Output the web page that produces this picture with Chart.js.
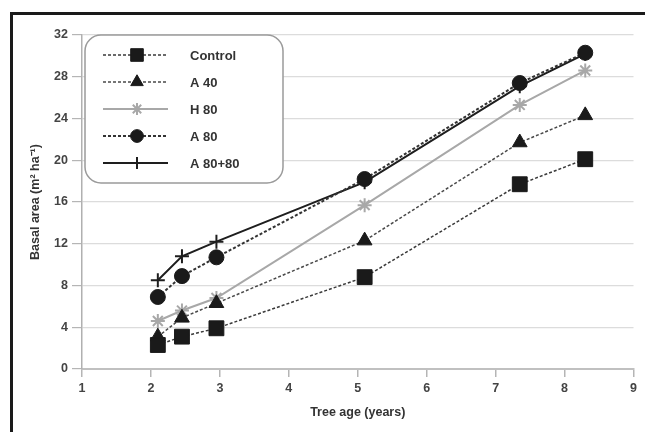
<!DOCTYPE html>
<html>
<head>
<meta charset="utf-8">
<script src="https://cdn.jsdelivr.net/npm/chart.js@4.4.0/dist/chart.umd.min.js"></script>
<style>
  html, body { margin: 0; padding: 0; background: #fff; overflow: hidden; }
  #wrap { position: relative; width: 645px; height: 432px; }
  #frame { position: absolute; left: 10px; top: 12px; width: 700px; height: 500px;
           border-left: 3px solid #1a1a1a; border-top: 3px solid #1a1a1a; pointer-events: none; }
</style>
</head>
<body>
<div id="wrap">
  <canvas id="basal_chart" width="645" height="432"></canvas>
  <div id="frame"></div>
</div>
<script>
// tree age at each measurement (years)
const ages = [2.1, 2.45, 2.95, 5.1, 7.35, 8.3];
// basal area (m2 ha-1) per treatment
const control = [2.3, 3.1, 3.9, 8.8, 17.7, 20.1];
const a40 = [3.1, 4.9, 6.3, 12.3, 21.7, 24.3];
const h80 = [4.6, 5.6, 6.8, 15.7, 25.3, 28.6];
const a80 = [6.9, 8.9, 10.7, 18.2, 27.4, 30.3];
const a80plus80 = [8.5, 10.8, 12.2, 17.9, 27.1, 30.2];
const seriesNames = ["Control", "A 40", "H 80", "A 80", "A 80+80"];
const yTicks = [0, 4, 8, 12, 16, 20, 24, 28, 32];
const xTicks = [1, 2, 3, 4, 5, 6, 7, 8, 9];

const font = "'Liberation Sans', Arial, sans-serif";

function pts(vals) {
    return vals.map(function (v, i) { return { x: ages[i], y: v }; });
}

const styles = [
    { color: "#3a3a3a", fill: "#1a1a1a", dash: [3, 2], width: 1.5, point: "rect", r: 10.5 },
    { color: "#4a4a4a", fill: "#1a1a1a", dash: [3, 2], width: 1.5, point: "triangle", r: 8.5 },
    { color: "#a8a8a8", fill: "#a8a8a8", dash: [], width: 2, point: "star", r: 7 },
    { color: "#333333", fill: "#1a1a1a", dash: [3, 2], width: 2, point: "circle", r: 7.5 },
    { color: "#1e1e1e", fill: "#1e1e1e", dash: [], width: 2, point: "cross", r: 7 }
];
const allSeries = [control, a40, h80, a80, a80plus80];

const datasets = allSeries.map(function (vals, i) {
    var s = styles[i];
    return {
        label: seriesNames[i],
        data: pts(vals),
        borderColor: s.color,
        borderWidth: s.width,
        borderDash: s.dash,
        pointStyle: s.point,
        pointRadius: s.r,
        pointBackgroundColor: s.fill,
        pointBorderColor: s.fill,
        pointBorderWidth: (s.point === "star" || s.point === "cross") ? 2 : 1,
        tension: 0,
        fill: false
    };
});

// legend drawn by hand: line sample + marker, rounded box
const boxLegend = {
    id: "boxLegend",
    afterDatasetsDraw(chart) {
        var ctx = chart.ctx;
        ctx.save();
        ctx.beginPath();
        ctx.roundRect(85, 35, 198, 148, 16);
        ctx.fillStyle = "#fff";
        ctx.fill();
        ctx.lineWidth = 1.5;
        ctx.strokeStyle = "#9a9a9a";
        ctx.stroke();
        chart.data.datasets.forEach(function (ds, i) {
            var y = 55 + i * 27;
            ctx.save();
            ctx.beginPath();
            ctx.setLineDash(ds.borderDash);
            ctx.lineWidth = ds.borderWidth;
            ctx.strokeStyle = ds.borderColor;
            ctx.moveTo(103, y);
            ctx.lineTo(168, y);
            ctx.stroke();
            ctx.setLineDash([]);
            ctx.fillStyle = ds.pointBackgroundColor;
            ctx.strokeStyle = ds.pointBorderColor;
            ctx.lineWidth = ds.pointBorderWidth;
            Chart.helpers.drawPoint(ctx, {
                pointStyle: ds.pointStyle,
                radius: ds.pointRadius * 0.85,
                rotation: 0,
                borderWidth: ds.pointBorderWidth
            }, 137, y);
            ctx.restore();
            ctx.fillStyle = "#333";
            ctx.font = "bold 13px " + font;
            ctx.textBaseline = "middle";
            ctx.fillText(ds.label, 190, y + 1);
        });
        ctx.restore();
    }
};

new Chart("basal_chart", {
    type: "line",
    data: { datasets: datasets },
    options: {
        responsive: false,
        animation: false,
        layout: { padding: { left: 24, top: 35, right: 1, bottom: 8 } },
        plugins: {
            legend: { display: false },
            tooltip: { enabled: false }
        },
        scales: {
            x: {
                type: "linear",
                min: 1,
                max: 9,
                afterBuildTicks: function (s) { s.ticks = xTicks.map(function (v) { return { value: v }; }); },
                afterFit: function (s) { s.height = 55; },
                ticks: { color: "#444", font: { family: font, size: 12.5, weight: "bold" }, padding: 4 },
                grid: { drawOnChartArea: false, tickLength: 8, color: "#b5b5b5", tickColor: "#b5b5b5", lineWidth: 1.5 },
                border: { color: "#c0c0c0", width: 2 },
                title: { display: true, text: "Tree age (years)", color: "#333",
                         font: { family: font, size: 12.5, weight: "bold" }, padding: { top: 2 } }
            },
            y: {
                min: 0,
                max: 32,
                afterBuildTicks: function (s) { s.ticks = yTicks.map(function (v) { return { value: v }; }); },
                afterFit: function (s) { s.width = 58; },
                ticks: { color: "#444", font: { family: font, size: 12.5, weight: "bold" }, padding: 4 },
                grid: { color: "#dcdcdc", tickColor: "#b5b5b5", tickLength: 10, lineWidth: 1.2 },
                border: { color: "#b0b0b0", width: 1.5 },
                title: { display: true, text: "Basal area (m\u00B2 ha\u207B\u00B9)", color: "#333",
                         font: { family: font, size: 12.5, weight: "bold" }, padding: { bottom: 2 } }
            }
        }
    },
    plugins: [boxLegend]
});
</script>
</body>
</html>
